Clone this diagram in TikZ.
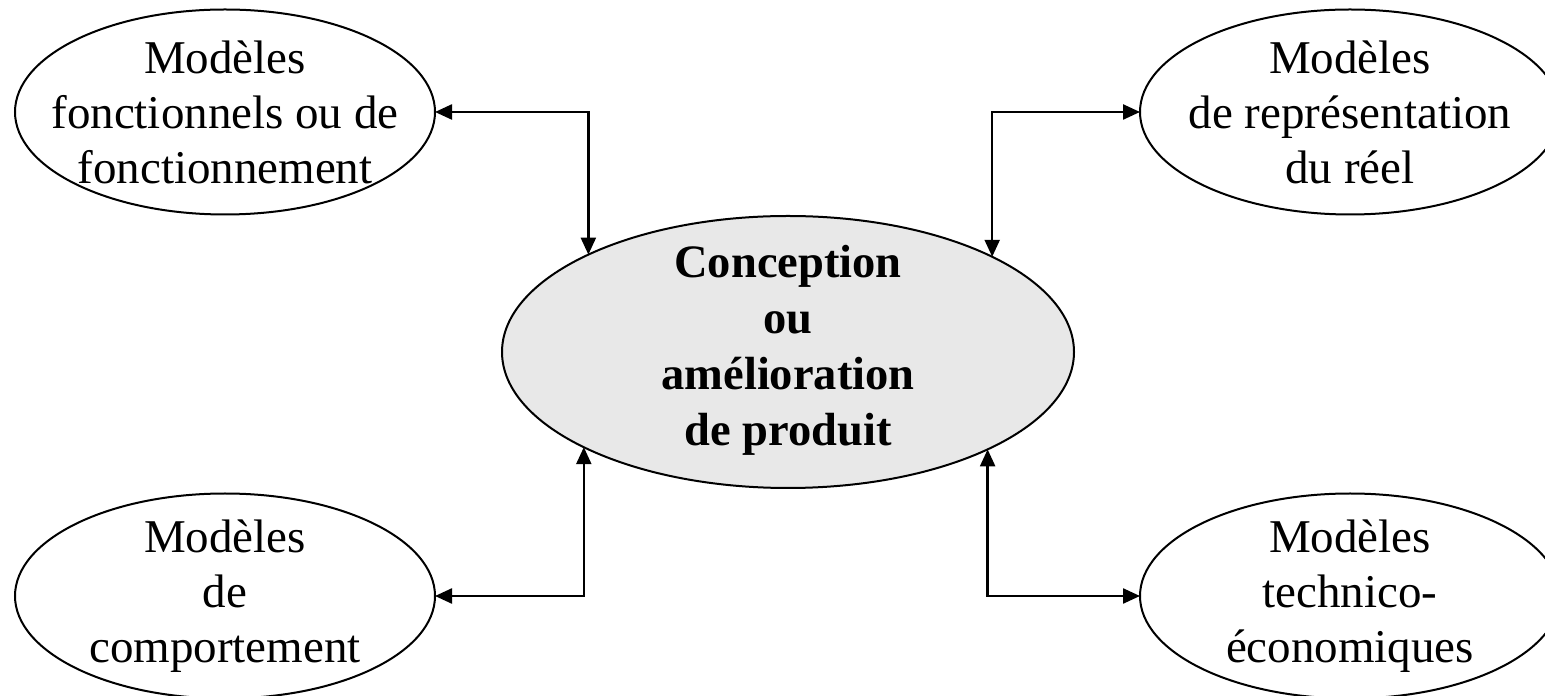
\documentclass[tikz,border=0pt]{standalone}
\usepackage{fontspec}
\setmainfont{Liberation Serif}
\usetikzlibrary{shapes.geometric,arrows.meta}
\tikzset{
  ell/.style={draw, ellipse, line width=2pt, inner sep=0pt, outer sep=0pt,
    minimum width=420pt, minimum height=205pt},
  mainell/.style={draw, ellipse, line width=2pt, inner sep=0pt, outer sep=0pt,
    fill=gray!18, minimum width=572pt, minimum height=272pt},
  txt/.style={align=center, inner sep=0pt, font=\fontsize{47}{55}\selectfont},
  maintxt/.style={align=center, inner sep=0pt, font=\fontsize{46.5}{56}\selectfont\bfseries},
  conn/.style={line width=2.4pt, {Triangle[length=17pt,width=15pt]}-{Triangle[length=17pt,width=15pt]}}
}
\begin{document}
\begin{tikzpicture}[x=1pt,y=1pt]
\useasboundingbox (0,0) rectangle (1545,696);
\node[mainell] (c) at (788,344) {};
\node[maintxt] (ct) at ([yshift=2pt]c.center) {Conception\\ou\\amélioration\\de produit};
\node[ell] (tl) at (225,584) {};
\node[txt] (tlt) at (tl.center) {Modèles\\fonctionnels ou de\\fonctionnement};
\node[ell] (tr) at (1350,584) {};
\node[txt] (trt) at (tr.center) {Modèles\\de représentation\\du réel};
\node[ell] (bl) at (225,100) {};
\node[txt] (blt) at (bl.center) {Modèles\\de\\comportement};
\node[ell] (br) at (1350,100) {};
\node[txt] (brt) at (br.center) {Modèles\\technico-\\économiques};
\draw[conn] (tl.east) -| (c.154.5);
\draw[conn] (c.25.5) |- (tr.west);
\draw[conn] (c.205.5) |- (bl.east);
\draw[conn] (c.334.5) |- (br.west);
\end{tikzpicture}
\end{document}
